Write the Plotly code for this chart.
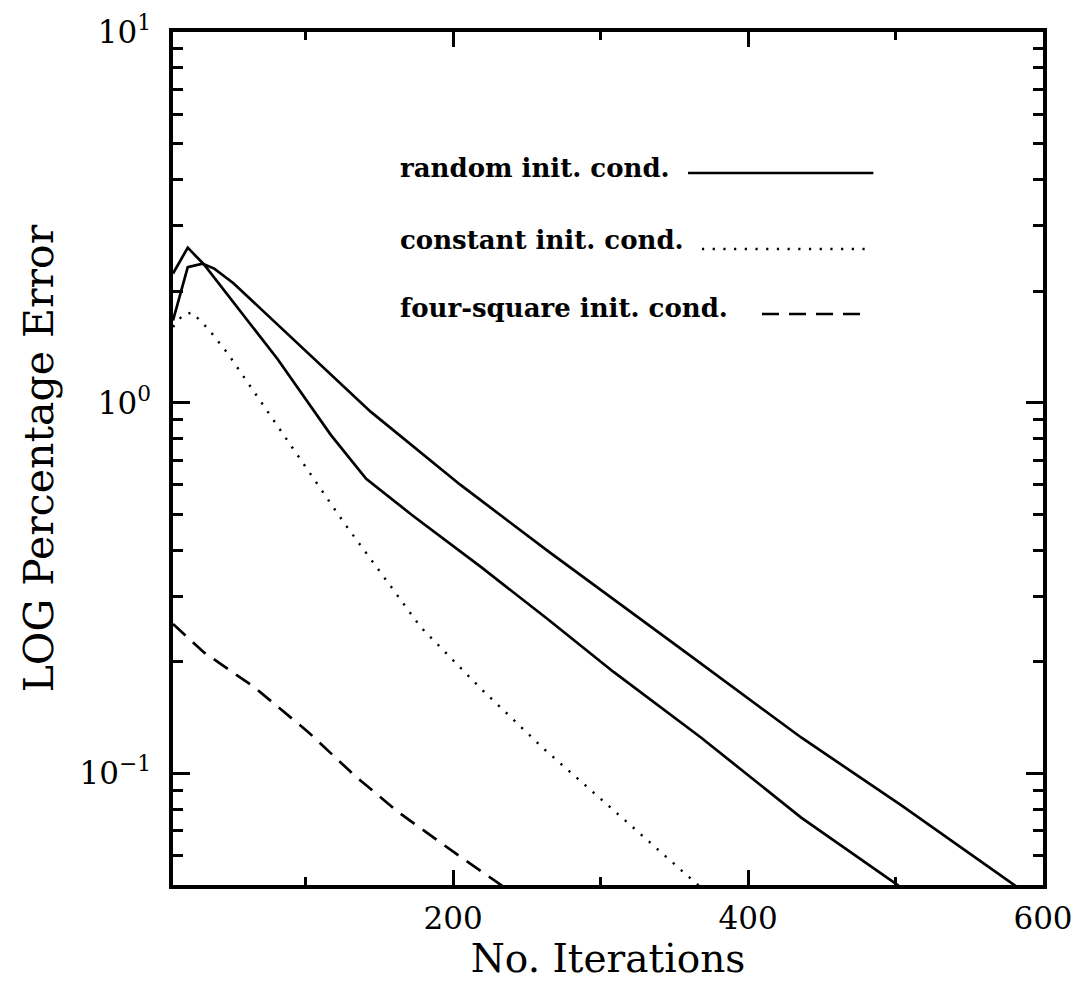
import plotly.graph_objects as go

# ---- data ----
iter_random_a = [10, 20, 31, 81, 117, 141, 172, 219, 264, 309, 368, 436, 502]
err_random_a = [2.23, 2.62, 2.36, 1.31, 0.819, 0.623, 0.498, 0.360, 0.261, 0.1875, 0.125, 0.076, 0.0498]

iter_random_b = [10, 20, 30, 38, 51, 106, 144, 205, 265, 355, 436, 504, 583]
err_random_b = [1.667, 2.32, 2.37, 2.30, 2.10, 1.31, 0.946, 0.600, 0.396, 0.216, 0.125, 0.082, 0.0492]

iter_constant = [10, 17, 23, 34, 47, 72, 101, 126, 152, 178, 219, 262, 306, 350, 368]
err_constant = [1.60, 1.73, 1.75, 1.58, 1.36, 0.975, 0.659, 0.474, 0.343, 0.248, 0.169, 0.116, 0.0814, 0.0571, 0.0492]

iter_four = [10, 31, 65, 102, 133, 163, 201, 235]
err_four = [0.253, 0.212, 0.171, 0.129, 0.0988, 0.0785, 0.0611, 0.0492]

legend_labels = ["random init. cond.", "constant init. cond.", "four-square init. cond."]

x_tickvals = [200, 400, 600]
x_ticktext = ["200", "400", "600"]
x_minor = [100, 300, 500]
y_tickvals = [0.1, 1, 10]
y_ticktext = ["10<sup>\u22121</sup>", "10<sup>0</sup>", "10<sup>1</sup>"]
y_minor = [0.06, 0.07, 0.08, 0.09, 0.2, 0.3, 0.4, 0.5, 0.6, 0.7, 0.8, 0.9,
           2, 3, 4, 5, 6, 7, 8, 9]

FONT = "DejaVu Serif"
LW = 2.7
DOT = "2.2px,8.5px"
DASH = "17px,10px"

fig = go.Figure()
fig.add_trace(go.Scatter(x=iter_random_a, y=err_random_a, mode="lines",
                         name=legend_labels[0], line=dict(color="black", width=LW)))
fig.add_trace(go.Scatter(x=iter_random_b, y=err_random_b, mode="lines",
                         name=legend_labels[0] + " (2)", line=dict(color="black", width=LW)))
fig.add_trace(go.Scatter(x=iter_constant, y=err_constant, mode="lines",
                         name=legend_labels[1], line=dict(color="black", width=2.4, dash=DOT)))
fig.add_trace(go.Scatter(x=iter_four, y=err_four, mode="lines",
                         name=legend_labels[2], line=dict(color="black", width=LW, dash=DASH)))

# in-plot key: text on the left, line sample on the right
key_rows = [
    (legend_labels[0], 0.8406, 0.592, 0.805, 0.8347, None, LW),
    (legend_labels[1], 0.756, 0.608, 0.799, 0.7456, DOT, 2.4),
    (legend_labels[2], 0.676, 0.677, 0.799, 0.6694, DASH, LW),
]
for text, ty, x0, x1, ly, dash, w in key_rows:
    fig.add_annotation(x=0.2586, y=ty, xref="paper", yref="paper", text="<b>" + text + "</b>",
                       showarrow=False, xanchor="left", yanchor="middle",
                       font=dict(family=FONT, size=26, color="black"))
    line = dict(color="black", width=w)
    if dash:
        line["dash"] = dash
    fig.add_shape(type="line", xref="paper", yref="paper", x0=x0, x1=x1, y0=ly, y1=ly, line=line)

axis_common = dict(
    showline=True, linecolor="black", linewidth=3.5, mirror="ticks",
    ticks="inside", tickcolor="black", tickwidth=2.5,
    showgrid=False, zeroline=False,
    tickfont=dict(family=FONT, size=31, color="black"),
)

fig.update_xaxes(
    range=[10, 600], tickmode="array", tickvals=x_tickvals, ticktext=x_ticktext,
    ticklen=15, ticklabelstandoff=3,
    minor=dict(tickmode="array", tickvals=x_minor, ticks="inside", ticklen=8,
               tickwidth=2.5, tickcolor="black", showgrid=False),
    title=dict(text="No. Iterations", font=dict(family=FONT, size=39, color="black"), standoff=6),
    **axis_common,
)
fig.update_yaxes(
    type="log", range=[-1.30103, 1], tickmode="array", tickvals=y_tickvals, ticktext=y_ticktext,
    ticklen=17, ticklabelstandoff=12,
    minor=dict(tickmode="array", tickvals=y_minor, ticks="inside", ticklen=10,
               tickwidth=2.5, tickcolor="black", showgrid=False),
    title=dict(text="LOG Percentage Error", font=dict(family=FONT, size=41, color="black"), standoff=14),
    **axis_common,
)

fig.update_layout(
    width=1082, height=1002,
    margin=dict(l=173, r=39, t=32, b=117, autoexpand=False),
    plot_bgcolor="white", paper_bgcolor="white",
    showlegend=False,
)

fig.write_html("out.html")
